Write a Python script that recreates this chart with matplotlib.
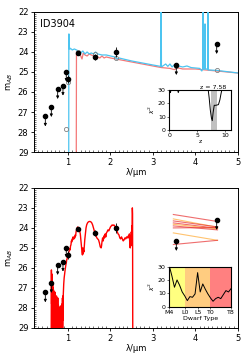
import numpy as np
import matplotlib
matplotlib.use("Agg")
import matplotlib.pyplot as plt
from matplotlib.ticker import MultipleLocator

# ---------------- data ----------------
phot_lam = [0.467, 0.608, 0.757, 0.882, 0.96, 1.008, 1.235, 1.643, 2.137, 3.55, 4.5]
phot_mag = [27.22, 26.75, 25.85, 25.68, 24.98, 25.37, 24.03, 24.23, 24.02, 24.65, 23.6]
phot_err = [0, 0, 0, 0, 0, 0.2, 0.05, 0.15, 0.25, 0, 0]
phot_ul = [True, True, True, True, True, False, False, False, False, True, True]

model_lam = [0.96, 1.008, 1.235, 1.643, 2.137, 3.55, 4.5]
model_mag = [27.87, 25.5, 24.0, 24.1, 24.3, 24.72, 24.88]

cyan_lam = [0.9, 1.018, 1.02, 1.024, 1.03, 1.045, 1.06, 1.08, 1.1, 1.15, 1.2, 1.25, 1.3, 1.35,
            1.4, 1.45, 1.5, 1.55, 1.6, 1.65, 1.7, 1.8, 1.9, 2.0, 2.1, 2.15, 2.2, 2.5, 3.0,
            3.18, 3.185, 3.195, 3.2, 3.3, 3.35, 3.4, 3.45, 3.5, 3.55, 3.6, 3.7, 3.8, 3.9,
            4.0, 4.1, 4.15, 4.17, 4.172, 4.178, 4.18, 4.22, 4.223, 4.227, 4.23, 4.29, 4.293,
            4.298, 4.3, 4.5, 5.0]
cyan_mag = [29.5, 29.5, 23.1, 23.1, 23.85, 23.8, 23.85, 23.85, 23.9, 23.85, 23.9, 23.95, 24.05,
            23.95, 24.1, 24.0, 24.1, 24.05, 24.1, 24.0, 24.1, 24.15, 24.15, 24.2, 24.25, 24.35,
            24.3, 24.45, 24.65, 24.72, 21.5, 21.5, 24.75, 24.6, 24.72, 24.6, 24.75, 24.65, 24.8,
            24.7, 24.75, 24.7, 24.78, 24.8, 24.82, 24.95, 24.85, 21.5, 21.5, 24.85, 24.85, 22.6,
            22.6, 24.85, 24.85, 21.5, 21.5, 24.9, 24.92, 25.05]

red_lam = [1.19, 1.195, 1.2, 1.22, 1.25, 1.28, 1.3, 1.33, 1.36, 1.4, 1.45, 1.5, 1.55, 1.6, 1.7,
           1.75, 1.8, 1.85, 1.9, 2.0, 2.5, 3.0, 3.2, 3.4, 3.5, 3.6, 3.7, 4.0, 4.5, 5.0]
red_mag = [29.5, 29.5, 24.0, 24.05, 24.05, 24.1, 24.2, 24.35, 24.05, 24.15, 24.2, 24.1, 24.15,
           24.2, 24.25, 24.3, 24.2, 24.3, 24.25, 24.3, 24.5, 24.7, 24.78, 24.82, 24.88, 24.8,
           24.85, 24.85, 24.95, 25.05]

z_grid = [0.0, 0.1, 0.2, 0.35, 1.4, 1.6, 1.8, 6.9, 7.1, 7.3, 7.5, 7.65, 7.8, 8.0, 8.3, 8.75,
          9.0, 9.2, 9.4]
z_chi2 = [31, 29, 28, 31, 31, 28, 31, 31, 24, 15, 9, 7, 13, 18.5, 18.5, 19.0, 22.5, 27, 31]
z_best = 7.58
z_range = [7.45, 8.45]

dwarf_type = list(range(25))
dwarf_chi2 = [30.5, 23, 14.5, 20, 16, 11, 8, 4.5, 7.5, 7, 9.5, 25.5, 11, 17, 13, 9.5, 6.5,
              4, 6, 7, 6, 9, 12, 11, 13.5]
dwarf_ticks = [0, 6, 11, 16, 24]
dwarf_labels = ['M4', 'L0', 'L5', 'T0', 'T8']

bd_lam = [0.605, 0.610, 0.615, 0.620, 0.625, 0.630, 0.635, 0.640, 0.645, 0.650, 0.655, 0.660,
          0.665, 0.670, 0.675, 0.680, 0.685, 0.690, 0.695, 0.700, 0.705, 0.710, 0.715, 0.720,
          0.725, 0.730, 0.735, 0.740, 0.745, 0.750, 0.755, 0.760, 0.765, 0.770, 0.775, 0.780,
          0.785, 0.790, 0.795, 0.800, 0.805, 0.810, 0.815, 0.820, 0.825, 0.830, 0.835, 0.840,
          0.845, 0.850, 0.855, 0.860, 0.865, 0.870, 0.875, 0.880, 0.885, 0.890, 0.895, 0.900,
          0.905, 0.910, 0.920, 0.930, 0.940, 0.950, 0.960, 0.970, 0.980, 0.990, 1.000, 1.010,
          1.020, 1.030, 1.040, 1.050, 1.060, 1.070, 1.080, 1.090, 1.100, 1.110, 1.120, 1.130,
          1.140, 1.150, 1.160, 1.170, 1.180, 1.190, 1.200, 1.215, 1.230, 1.245, 1.260, 1.275,
          1.290, 1.300, 1.310, 1.320, 1.330, 1.340, 1.350, 1.355, 1.365, 1.375, 1.385, 1.395,
          1.410, 1.425, 1.440, 1.460, 1.480, 1.500, 1.520, 1.540, 1.560, 1.580, 1.600, 1.620,
          1.640, 1.660, 1.680, 1.700, 1.720, 1.740, 1.760, 1.780, 1.790, 1.800, 1.815, 1.830,
          1.845, 1.860, 1.875, 1.890, 1.905, 1.920, 1.940, 1.960, 1.980, 2.000, 2.020, 2.040,
          2.060, 2.080, 2.100, 2.120, 2.140, 2.160, 2.180, 2.200, 2.220, 2.240, 2.260, 2.280,
          2.300, 2.320, 2.340, 2.360, 2.380, 2.400, 2.420, 2.435, 2.445, 2.455, 2.465, 2.470,
          2.480, 2.490, 2.500, 2.505, 2.510, 2.515, 2.520, 2.525]
bd_mag = [29.5, 26.1, 27.8, 26.3, 29.5, 26.6, 28.4, 26.8, 29.5, 27.0, 28.0, 27.1,
          29.5, 27.2, 28.6, 27.3, 29.5, 27.2, 28.2, 27.4, 29.5, 27.5, 28.8, 27.6,
          29.5, 27.4, 28.3, 27.7, 29.5, 27.8, 29.0, 27.5, 29.5, 27.9, 28.5, 28.2,
          29.5, 28.3, 29.2, 28.0, 29.5, 28.4, 29.5, 27.9, 29.5, 28.5, 29.5, 28.1,
          29.5, 28.3, 29.5, 27.8, 29.5, 27.5, 29.2, 27.4, 28.6, 27.3, 27.0, 26.8,
          26.6, 26.5, 26.3, 26.15, 26.0, 25.85, 25.75, 25.6, 25.55, 25.4, 25.35, 25.3,
          25.2, 25.15, 25.05, 25.1, 24.9, 24.85, 24.65, 24.7, 24.55, 24.6, 24.45, 24.5,
          24.55, 24.45, 24.5, 24.35, 24.4, 24.2, 24.1, 24.0, 23.95, 24.0, 24.05, 24.15,
          24.3, 24.5, 24.75, 25.0, 25.2, 25.35, 25.0, 25.3, 25.1, 25.2, 24.9, 24.6,
          24.3, 24.0, 23.85, 23.75, 23.7, 23.68, 23.68, 23.7, 23.75, 23.85, 24.0, 24.15,
          24.3, 24.4, 24.5, 24.55, 24.6, 24.75, 24.95, 25.0, 24.9, 24.7, 24.5, 24.65,
          24.4, 24.5, 24.3, 24.45, 24.25, 24.2, 24.1, 24.15, 24.05, 23.95, 23.9, 23.85,
          23.88, 23.85, 23.9, 24.0, 24.1, 24.2, 24.3, 24.35, 24.5, 24.55, 24.45, 24.55,
          24.65, 24.6, 24.5, 24.55, 24.45, 24.5, 24.4, 24.5, 24.3, 24.8, 25.0, 24.4,
          24.9, 24.2, 24.7, 23.9, 24.5, 23.0, 23.3, 29.5]

irac_left = 3.48
irac_right = 4.52
bd_ch1 = [23.33, 23.55, 23.65, 23.75, 23.82, 23.9, 24.0, 24.25, 24.83]
bd_ch2 = [23.68, 23.97, 23.95, 24.02, 24.05, 24.1, 23.98, 24.62, 24.62]
bd_line_colors = ['#e83030', '#ffaa33', '#e83030', '#e83030', '#ffaa33', '#e83030',
                  '#e83030', '#ffaa33', '#e83030']

CYAN = '#4cc4f0'
RED_TOP = '#f26060'
RED = '#ff0000'

# ---------------- figure ----------------
fig = plt.figure(figsize=(2.49, 3.62), dpi=100)
ax1 = fig.add_axes([0.1365, 0.580, 0.819, 0.387])
ax2 = fig.add_axes([0.1365, 0.094, 0.819, 0.387])


def style_main(ax):
    ax.set_xlim(0.2, 5)
    ax.set_ylim(29, 22)
    ax.xaxis.set_major_locator(MultipleLocator(1))
    ax.xaxis.set_minor_locator(MultipleLocator(0.1))
    ax.yaxis.set_major_locator(MultipleLocator(1))
    ax.yaxis.set_minor_locator(MultipleLocator(0.1))
    ax.tick_params(which='major', direction='out', length=2.5, width=0.6,
                   labelsize=6, pad=1.5)
    ax.tick_params(which='minor', direction='in', length=1.5, width=0.4)
    for s in ax.spines.values():
        s.set_linewidth(0.7)
    ax.set_xlabel('λ/μm', fontsize=6, labelpad=1)
    ax.set_ylabel(r'm$_{AB}$', fontsize=6, labelpad=2)


def draw_phot(ax):
    for lam, m, e, ul in zip(phot_lam, phot_mag, phot_err, phot_ul):
        if ul:
            ax.annotate('', xy=(lam, m + 0.5), xytext=(lam, m),
                        arrowprops=dict(arrowstyle='-|>', color='k', lw=0.6,
                                        mutation_scale=4, shrinkA=0, shrinkB=0), zorder=6)
            ax.plot(lam, m, 'o', color='k', ms=3, zorder=7)
        else:
            ax.errorbar(lam, m, yerr=e, fmt='o', color='k', ms=3, elinewidth=0.6,
                        capsize=0, zorder=7)


style_main(ax1)
ax1.plot(red_lam, red_mag, color=RED_TOP, lw=0.9, alpha=0.85, zorder=2)
ax1.plot(cyan_lam, cyan_mag, color=CYAN, lw=0.9, zorder=3)
ax1.plot(model_lam, model_mag, 'o', mfc='none', mec='#808080', ms=3, mew=0.6, zorder=5)
draw_phot(ax1)
ax1.text(0.03, 0.95, 'ID3904', transform=ax1.transAxes, fontsize=7, va='top', ha='left')

style_main(ax2)
ax2.plot(bd_lam, bd_mag, color=RED, lw=1.0, zorder=2)
for l1, l2, c in zip(bd_ch1, bd_ch2, bd_line_colors):
    ax2.plot([irac_left, irac_right], [l1, l2], color=c, lw=0.8, alpha=0.7, zorder=3)
draw_phot(ax2)

# ---------------- insets ----------------
def style_inset(ax):
    ax.tick_params(labelsize=4.5, length=1.5, width=0.4, pad=1)
    for s in ax.spines.values():
        s.set_linewidth(0.8)

ins1 = fig.add_axes([0.68, 0.641, 0.248, 0.1105])
style_inset(ins1)
ins1.axvspan(z_range[0], z_range[1], color='#c0c0c0', lw=0)
ins1.plot(z_grid, z_chi2, color='k', lw=0.7)
ins1.set_xlim(0, 11)
ins1.set_ylim(0, 30)
ins1.set_xticks([0, 5, 10])
ins1.set_yticks([0, 10, 20, 30])
ins1.set_xlabel('z', fontsize=4.5, labelpad=0.5)
ins1.set_ylabel(r'$\chi^2$', fontsize=4.5, labelpad=1)
ins1.text(0.93, 1.0, 'z = %.2f' % z_best, transform=ins1.transAxes, fontsize=4.5,
          ha='right', va='bottom')

ins2 = fig.add_axes([0.68, 0.153, 0.248, 0.1105])
style_inset(ins2)
ins2.axvspan(dwarf_ticks[0], dwarf_ticks[1], color='#ffff80', lw=0)
ins2.axvspan(dwarf_ticks[1], dwarf_ticks[3], color='#ffcc80', lw=0)
ins2.axvspan(dwarf_ticks[3], dwarf_ticks[4], color='#ff8080', lw=0)
ins2.plot(dwarf_type, dwarf_chi2, color='k', lw=0.7)
ins2.set_xlim(0, 24)
ins2.set_ylim(0, 30)
ins2.set_xticks(dwarf_ticks)
ins2.set_xticklabels(dwarf_labels)
ins2.set_yticks([0, 10, 20, 30])
ins2.set_xlabel('Dwarf Type', fontsize=4.5, labelpad=0.5)
ins2.set_ylabel(r'$\chi^2$', fontsize=4.5, labelpad=1)

fig.savefig('out.png', dpi=100)
